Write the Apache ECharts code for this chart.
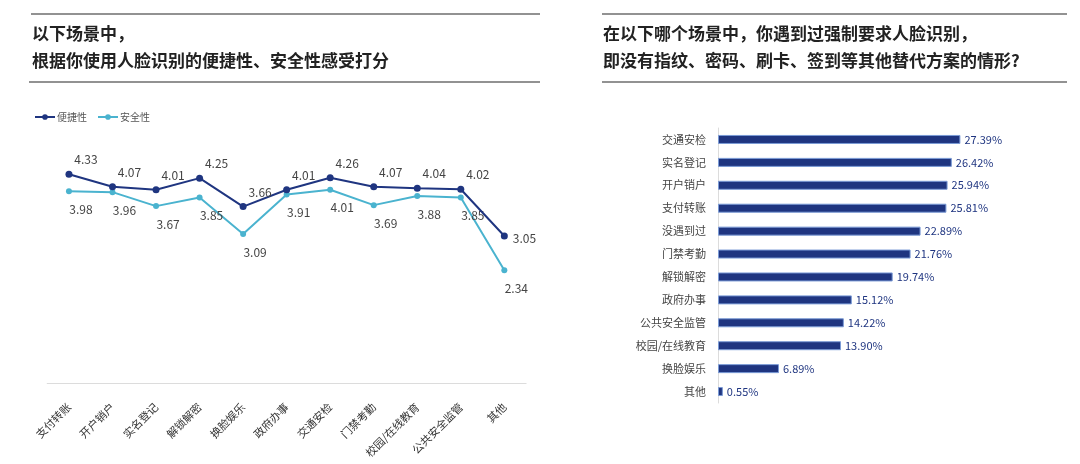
<!DOCTYPE html>
<html><head><meta charset="utf-8">
<script src="https://cdn.jsdelivr.net/npm/echarts@6/dist/echarts.min.js"></script>
<style>html,body{margin:0;padding:0;background:#fff}#c{width:1080px;height:464px}</style>
</head><body><div id="c"></div>
<script>
const lineCategories = ['支付转账','开户销户','实名登记','解锁解密','换脸娱乐','政府办事','交通安检','门禁考勤','校园/在线教育','公共安全监管','其他'];
const convenience = [4.33,4.07,4.01,4.25,3.66,4.01,4.26,4.07,4.04,4.02,3.05];
const security = [3.98,3.96,3.67,3.85,3.09,3.91,4.01,3.69,3.88,3.85,2.34];
const barCategories = ['交通安检','实名登记','开户销户','支付转账','没遇到过','门禁考勤','解锁解密','政府办事','公共安全监管','校园/在线教育','换脸娱乐','其他'];
const barValues = [27.39,26.42,25.94,25.81,22.89,21.76,19.74,15.12,14.22,13.90,6.89,0.55];
const leftTitle = ['以下场景中，','根据你使用人脸识别的便捷性、安全性感受打分'];
const rightTitle = ['在以下哪个场景中，你遇到过强制要求人脸识别，','即没有指纹、密码、刷卡、签到等其他替代方案的情形?'];

const FONT = '"Noto Sans CJK SC","Noto Sans",sans-serif';
const DARK = '#1f3580';
const LIGHT = '#4ab3cf';
const chart = echarts.init(document.getElementById('c'));

function hline(x1,x2,y){return {type:'line',shape:{x1:x1,y1:y,x2:x2,y2:y},style:{stroke:'#6e6e6e',lineWidth:1.5},silent:true};}
function ttext(x,y,t){return {type:'text',x:x,y:y,style:{text:t,font:'bold 17px '+FONT,fill:'#222',textVerticalAlign:'middle'},silent:true};}

chart.setOption({
  animation:false,
  graphic:[
    hline(31,540,14), hline(29,540,82),
    hline(602,1067,14), hline(602,1067,82),
    ttext(32,34,leftTitle[0]), ttext(32,61,leftTitle[1]),
    ttext(603,34,rightTitle[0]), ttext(603,61,rightTitle[1])
  ],
  legend:{
    left:29, top:107, itemWidth:20, itemHeight:7, itemGap:10,
    textStyle:{fontSize:10,color:'#555',fontFamily:FONT,padding:[0,0,0,-3]},
    data:['便捷性','安全性']
  },
  grid:[
    {left:47.2, top:142, width:478.9, height:241},
    {left:718, top:128, width:265.5, height:275}
  ],
  xAxis:[
    {type:'category', gridIndex:0, data:lineCategories, offset:2,
     axisLine:{lineStyle:{color:'#dcdcdc'}}, axisTick:{show:false},
     axisLabel:{rotate:45, interval:0, margin:20, fontSize:11, color:'#333', fontFamily:FONT}},
    {type:'value', gridIndex:1, min:0, max:30, show:false}
  ],
  yAxis:[
    {type:'value', gridIndex:0, min:0, max:5, show:false},
    {type:'category', gridIndex:1, data:barCategories, inverse:true,
     axisLine:{lineStyle:{color:'#dcdcdc'}}, axisTick:{show:false},
     axisLabel:{fontSize:11, color:'#444', margin:12, fontFamily:FONT}}
  ],
  series:[
    {name:'便捷性', type:'line', xAxisIndex:0, yAxisIndex:0, z:3,
     data:convenience.map((v,i)=> i===convenience.length-1 ? {value:v,label:{position:'right',offset:[0,2]}} : v),
     symbol:'circle', symbolSize:7, itemStyle:{color:DARK}, lineStyle:{color:DARK,width:2},
     label:{show:true, position:'top', offset:[17,0], fontSize:12, color:'#444', fontFamily:FONT, formatter:p=>p.value.toFixed(2)}},
    {name:'安全性', type:'line', xAxisIndex:0, yAxisIndex:0, z:2,
     data:security,
     symbol:'circle', symbolSize:6, itemStyle:{color:LIGHT}, lineStyle:{color:LIGHT,width:2},
     label:{show:true, position:'bottom', offset:[12,4], fontSize:12, color:'#444', fontFamily:FONT, formatter:p=>p.value.toFixed(2)}},
    {type:'bar', xAxisIndex:1, yAxisIndex:1, data:barValues, barWidth:9,
     itemStyle:{color:DARK, borderColor:'#7b9bd6', borderWidth:1},
     label:{show:true, position:'right', distance:4, fontSize:11, color:DARK, fontFamily:FONT, formatter:p=>p.value.toFixed(2)+'%'}}
  ]
});
</script></body></html>
